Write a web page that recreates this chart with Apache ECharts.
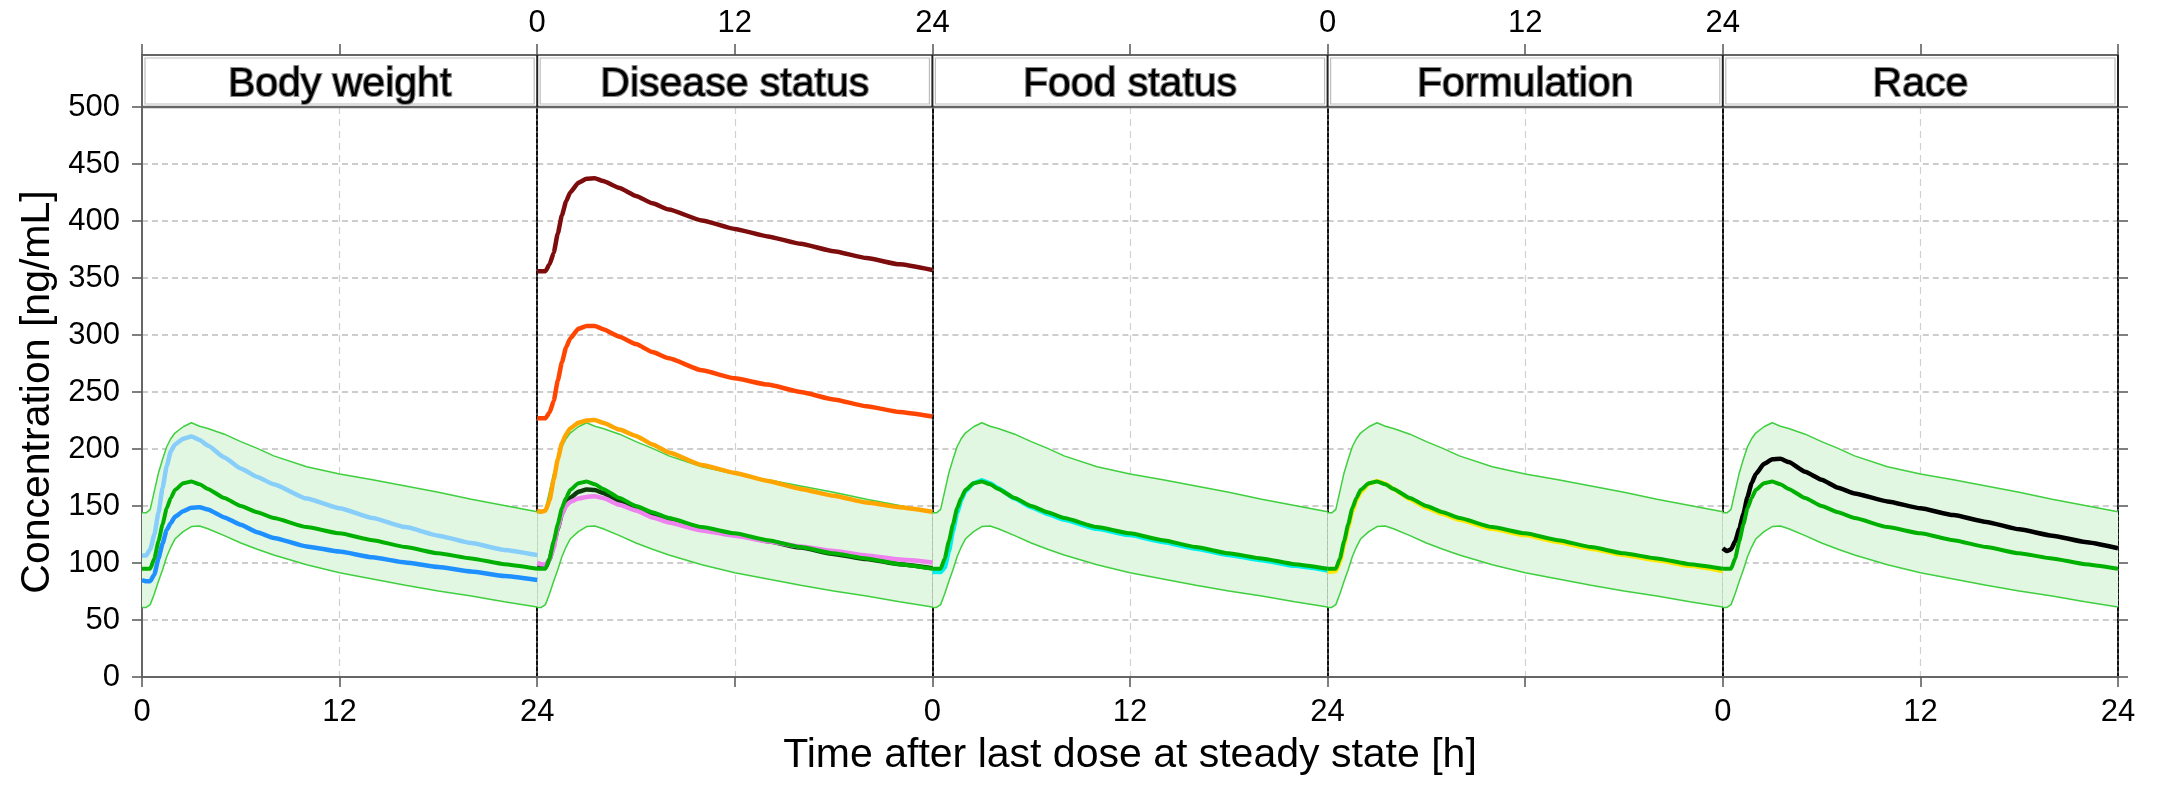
<!DOCTYPE html>
<html>
<head>
<meta charset="utf-8">
<script src="https://cdn.jsdelivr.net/npm/echarts@6/dist/echarts.min.js"></script>
<style>
  html, body { margin: 0; padding: 0; background: #fff; }
  #chart { width: 2157px; height: 785px; }
</style>
</head>
<body>
<div id="chart"></div>
<script>
// ---- Data ----
const panels = ['Body weight', 'Disease status', 'Food status', 'Formulation', 'Race'];
const T = [0, 0.25, 0.5, 0.75, 1, 1.25, 1.5, 1.75, 2, 2.5, 3, 3.5, 4, 5, 6, 7, 8, 10, 12, 14, 16, 18, 20, 22, 24];

// reference (median) curve and 90% band, identical in every panel
const refMedian = [95, 95, 95, 104, 119, 134, 148, 157, 164, 170, 171.5, 169, 165, 157, 150, 144.5, 139.5, 131.5, 126, 120, 114, 108.5, 104, 99, 95];
const bandUpper = [144, 144, 147, 163, 179, 191, 202, 209, 214, 219.5, 223, 220, 218, 213, 206.5, 200.5, 194, 184.5, 178, 173, 167.5, 162, 156, 150.5, 145];
const bandLower = [61, 61, 63.5, 73, 84, 94, 105.5, 114, 121, 127.5, 132, 132.5, 130, 124, 117.5, 112, 107, 98.5, 91.5, 86, 80.5, 75.5, 71, 66, 61.5];

// Body weight
const bwLight = [106.5, 106.5, 112, 125, 144, 166, 185, 198, 204, 209, 211, 208, 203, 192.5, 183, 175.5, 169, 156.5, 148, 139.5, 131.5, 124, 117.5, 111.5, 107];
const bwBlue = [85, 84, 84, 90, 104, 117, 129, 135, 140.5, 145.5, 148.5, 149, 147, 140, 133.5, 127, 122, 114.5, 110, 105, 100.5, 96.5, 92.5, 88.5, 85];
// Disease status
const dsDarkRed = [356, 356, 356, 362, 372, 389, 405, 417, 425, 433.5, 437, 437.5, 435, 429, 422, 415.5, 410, 400.5, 393, 386.5, 380, 373.5, 367.5, 362, 357];
const dsOrangeRed = [227, 227, 227, 232, 242, 260, 276, 289, 297, 305.5, 308, 308, 305, 298.5, 292, 285, 279.5, 269, 262, 256.5, 250, 243.5, 237.5, 232.5, 228.5];
const dsOrange = [146, 145, 146, 155, 173, 191, 205, 213, 218, 223, 225, 225.5, 223, 217, 211.5, 204, 197, 186, 179, 172, 165, 159, 153, 149, 145];
const dsDark = [96, 96, 96, 103, 116, 130, 143, 151, 157, 162.5, 164.5, 164, 161.5, 154.5, 148, 142.5, 138, 130.5, 125, 119, 113.5, 108, 103.5, 99, 95.5];
const dsViolet = [100, 99, 98.5, 103, 113, 131, 143, 150, 153.5, 156.5, 158, 158.5, 157, 151, 146, 140, 135.5, 128.5, 124, 119, 114.5, 110.5, 106.5, 103, 100.5];
// Food status
const fsCyan = [92, 92, 92, 96, 110, 128, 144, 155, 163, 170, 172.5, 170, 165.5, 156.5, 149, 143, 138, 130, 124.5, 118.5, 112.5, 107, 102.5, 97.5, 93.5];
// Formulation
const fmYellow = [92.5, 92.5, 93, 101, 116, 131, 145, 155, 162, 169.5, 172, 169.5, 165, 156, 148.5, 143, 138, 130, 124.5, 118.5, 112.5, 107, 102.5, 97.5, 93];
// Race
const raceBlack = [113, 110.5, 112, 119, 130, 143, 158, 170, 178, 187, 191, 191.5, 188.5, 180, 173, 166, 161, 154, 148, 142, 136, 129.5, 124, 118.5, 113];

const panelCurves = [
  [{ v: bwLight, c: '#87CEFA' }, { v: bwBlue, c: '#1E90FF' }],
  [{ v: dsDarkRed, c: '#7d0c0c' }, { v: dsOrangeRed, c: '#FF4500' }, { v: dsOrange, c: '#FFA500' },
   { v: dsDark, c: '#0d3d0d' }, { v: dsViolet, c: '#EE82EE' }],
  [{ v: fsCyan, c: '#00F0F0' }],
  [{ v: fmYellow, c: '#FFE800' }],
  [{ v: raceBlack, c: '#000000' }]
];

// ---- Layout ----
const GL = 142, PW = 395.2, GT = 107, GH = 570, STRIP_TOP = 55;
const FONT = '"Liberation Sans", Arial, sans-serif';
const TICK_FS = 31, TITLE_FS = 41;

const grids = [], xAxes = [], xAxesTop = [], yAxes = [], series = [], graphics = [];
const pts = arr => T.map((t, k) => [t, arr[k]]);
const boundaryStyle = { color: '#111', width: 2, type: [4, 2] };

panels.forEach((name, i) => {
  grids.push({ left: GL + i * PW, top: GT, width: PW, height: GH, containLabel: false });
  xAxes.push({
    type: 'value', gridIndex: i, min: 0, max: 24, interval: 12, position: 'bottom',
    axisLine: { show: true, onZero: false, lineStyle: { color: '#666', width: 2 } },
    axisTick: { show: true, inside: false, length: 10, lineStyle: { color: '#555', width: 1.5 } },
    axisLabel: { show: i % 2 === 0, margin: 20, fontSize: TICK_FS, color: '#000', fontFamily: FONT,
                 showMinLabel: true, showMaxLabel: true },
    splitLine: { show: true, showMinLine: false, showMaxLine: false,
                 lineStyle: { color: '#d0d0d0', width: 1.2, type: [7, 5] } },
    name: i === 2 ? 'Time after last dose at steady state [h]' : '',
    nameLocation: 'middle', nameGap: 58,
    nameTextStyle: { fontSize: TITLE_FS, color: '#000', fontFamily: FONT }
  });
  xAxesTop.push({
    type: 'value', gridIndex: i, min: 0, max: 24, interval: 12, position: 'top', offset: GT - STRIP_TOP,
    axisLine: { show: true, onZero: false, lineStyle: { color: '#666', width: 2 } },
    axisTick: { show: true, inside: false, length: 11, lineStyle: { color: '#555', width: 1.5 } },
    axisLabel: { show: i % 2 === 1, margin: 16, fontSize: TICK_FS, color: '#000', fontFamily: FONT,
                 showMinLabel: true, showMaxLabel: true },
    splitLine: { show: false }
  });
  yAxes.push({
    type: 'value', gridIndex: i, min: 0, max: 500, interval: 50, position: 'left',
    axisLine: { show: true, onZero: false,
                lineStyle: i === 0 ? { color: '#666', width: 2 } : boundaryStyle },
    axisTick: { show: i === 0, inside: false, length: 10, lineStyle: { color: '#555', width: 1.5 } },
    axisLabel: { show: i === 0, margin: 22, fontSize: TICK_FS, color: '#000', fontFamily: FONT },
    splitLine: { show: true, showMinLine: false, showMaxLine: false,
                 lineStyle: { color: '#bdbdbd', width: 1.5, type: [6, 4] } },
    name: i === 0 ? 'Concentration [ng/mL]' : '',
    nameLocation: 'middle', nameGap: 84,
    nameTextStyle: { fontSize: TITLE_FS, color: '#000', fontFamily: FONT }
  });

  // 90% band as a polygon built through the axis scales
  series.push({
    type: 'custom', xAxisIndex: i, yAxisIndex: i, data: [[0, 0]], silent: true, z: 1, clip: true,
    renderItem: (params, api) => {
      const upper = T.map((t, k) => api.coord([t, bandUpper[k]]));
      const lower = T.map((t, k) => api.coord([t, bandLower[k]])).reverse();
      return { type: 'polygon', shape: { points: upper.concat(lower) }, style: { fill: '#e2f7e2' } };
    }
  });
  [bandUpper, bandLower].forEach(b => series.push({
    type: 'line', xAxisIndex: i, yAxisIndex: i, data: pts(b), symbol: 'none',
    lineStyle: { color: '#3fcf3f', width: 1.5 }, silent: true, z: 2
  }));
  panelCurves[i].forEach(c => series.push({
    type: 'line', xAxisIndex: i, yAxisIndex: i, data: pts(c.v), symbol: 'none', smooth: 0.15, smoothMonotone: 'x',
    lineStyle: { color: c.c, width: 4.5 }, silent: true, z: 3
  }));
  series.push({
    type: 'line', xAxisIndex: i, yAxisIndex: i, data: pts(refMedian), symbol: 'none', smooth: 0.15, smoothMonotone: 'x',
    lineStyle: { color: '#00b000', width: 4 }, silent: true, z: 4
  });

  // strip
  const left = GL + i * PW;
  graphics.push({
    type: 'rect', z: 10,
    shape: { x: left + 3, y: STRIP_TOP + 3, width: PW - 6, height: GT - STRIP_TOP - 6 },
    style: { fill: '#fff', stroke: '#bdbdbd', lineWidth: 1.2 }
  });
  graphics.push({
    type: 'text', z: 11,
    style: { text: name, x: left + PW / 2, y: (STRIP_TOP + GT) / 2 + 4, align: 'center', verticalAlign: 'middle',
             font: '41px ' + FONT, fill: '#000', stroke: '#8a8a8a', lineWidth: 2.2, strokeFirst: true }
  });
});

// right-hand axis of the last panel
yAxes.push({
  type: 'value', gridIndex: 4, min: 0, max: 500, interval: 50, position: 'right',
  axisLine: { show: true, onZero: false, lineStyle: boundaryStyle },
  axisTick: { show: true, inside: false, length: 10, lineStyle: { color: '#555', width: 1.5 } },
  axisLabel: { show: false }, splitLine: { show: false }
});

// strip frame lines
graphics.push({ type: 'line', z: 12, shape: { x1: GL, y1: GT, x2: GL + 5 * PW, y2: GT },
                style: { stroke: '#666', lineWidth: 2.5 } });
for (let k = 0; k <= 5; k++) {
  const x = GL + k * PW;
  graphics.push({ type: 'line', z: 12, shape: { x1: x, y1: STRIP_TOP, x2: x, y2: GT },
                  style: { stroke: (k === 0) ? '#666' : '#222', lineWidth: 2 } });
}

const chart = echarts.init(document.getElementById('chart'), null, { renderer: 'canvas' });
chart.setOption({
  animation: false,
  backgroundColor: '#fff',
  grid: grids,
  xAxis: xAxes.concat(xAxesTop),
  yAxis: yAxes,
  series: series,
  graphic: graphics
});
</script>
</body>
</html>
